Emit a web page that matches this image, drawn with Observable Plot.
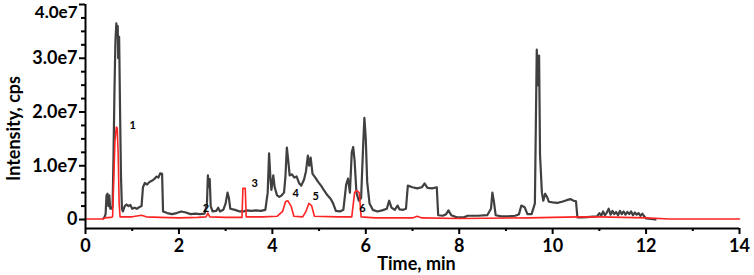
<!DOCTYPE html>
<html><head><meta charset="utf-8">
<script src="https://cdn.jsdelivr.net/npm/d3@7"></script>
<script src="https://cdn.jsdelivr.net/npm/@observablehq/plot@0.6"></script>
<style>body{margin:0;background:#fff} #chart svg{display:block}</style>
</head><body><div id="chart"></div>
<script>
// Intensities in millions of cps (1e6)
const ticTime = [0.38,0.40,0.43,0.45,0.47,0.49,0.51,0.53,0.56,0.58,0.60,0.62,0.64,0.66,0.68,0.69,0.70,0.72,0.74,0.76,0.78,0.80,0.84,0.88,0.92,0.96,1.00,1.05,1.10,1.15,1.20,1.23,1.27,1.32,1.37,1.42,1.47,1.52,1.56,1.60,1.64,1.66,1.75,1.85,1.95,2.05,2.15,2.25,2.35,2.45,2.55,2.60,2.62,2.64,2.66,2.68,2.72,2.80,2.84,2.88,2.95,3.00,3.04,3.07,3.10,3.20,3.30,3.38,3.45,3.55,3.65,3.75,3.85,3.90,3.93,3.96,3.98,4.02,4.05,4.10,4.15,4.20,4.25,4.28,4.31,4.34,4.37,4.42,4.47,4.52,4.57,4.62,4.68,4.72,4.76,4.79,4.82,4.86,4.92,4.98,5.05,5.10,5.18,5.25,5.30,5.36,5.45,5.52,5.58,5.62,5.66,5.70,5.73,5.76,5.80,5.85,5.90,5.94,5.97,6.00,6.03,6.08,6.15,6.25,6.35,6.45,6.50,6.55,6.62,6.68,6.72,6.80,6.86,6.90,7.00,7.10,7.20,7.26,7.32,7.42,7.52,7.55,7.65,7.72,7.77,7.83,7.95,8.10,8.18,8.40,8.60,8.68,8.71,8.74,8.78,8.90,9.05,9.20,9.28,9.33,9.40,9.46,9.55,9.62,9.66,9.69,9.71,9.73,9.77,9.80,9.84,9.88,9.92,10.00,10.10,10.20,10.30,10.38,10.45,10.50,10.53,10.65,10.80,10.95,11.00,11.04,11.08,11.12,11.16,11.20,11.24,11.28,11.32,11.36,11.40,11.44,11.48,11.52,11.56,11.60,11.64,11.68,11.72,11.76,11.80,11.84,11.88,11.92,11.96,12.00,12.10,12.20];
const ticValue = [0.2,0.3,1.0,4.5,4.8,2.5,4.5,2.0,2.0,2.5,12,24,33,36.5,35,36,30,34,20,8,2,1.5,2.5,2.8,2.5,2.7,2.0,2.2,2.0,2.3,2.5,6.0,6.8,6.5,7.0,7.2,7.5,8.0,7.8,8.6,8.5,1.5,1.2,1.0,1.2,1.5,1.3,1.0,1.1,1.0,1.1,3,8.2,6,7.5,2.5,1.5,1.6,2.2,1.5,1.8,3.0,5.0,4.0,2.0,1.8,1.5,1.5,1.7,1.6,1.7,1.6,1.8,5.0,12.3,7.5,5.5,8.2,6.0,4.5,4.2,4.5,5.0,8.0,13.4,11.0,8.2,8.4,7.8,8.0,6.8,6.3,7.5,9.0,11.9,10.0,11.5,8.5,7.8,7.0,6.2,5.5,4.5,3.8,3.0,1.6,1.5,1.8,6.5,7.6,5.0,12.5,13.5,11.0,5.0,3.5,4.0,13,18.9,15,7,3.0,1.8,1.5,1.7,2.0,3.5,2.2,1.8,2.6,1.9,1.8,2.0,6.3,6.0,5.8,6.0,6.7,5.9,5.8,6.0,0.8,0.7,1.0,1.7,0.8,0.4,0.4,0.7,0.7,0.8,2.0,5.0,3.5,0.8,0.6,0.6,0.7,1.0,2.6,2.3,1.0,1.0,3.0,31.6,25,30.5,12,5.0,3.5,4.8,4.2,3.3,3.2,3.1,3.3,3.6,3.8,3.5,3.4,0.4,0.4,0.5,0.6,1.2,0.7,1.5,0.8,1.3,2.0,0.9,1.6,1.0,1.4,0.8,1.6,1.0,1.5,0.9,1.4,1.0,1.5,0.8,1.3,0.9,1.2,0.7,1.1,0.6,0.2,0.1,0.0];

const xicTime = [0.00,0.38,0.40,0.55,0.58,0.60,0.63,0.66,0.68,0.70,0.72,0.74,1.00,1.20,1.30,1.60,2.00,2.40,2.58,2.62,2.66,3.00,3.35,3.37,3.42,3.44,3.80,4.10,4.22,4.28,4.33,4.40,4.46,4.65,4.72,4.78,4.84,4.90,5.40,5.70,5.76,5.80,5.86,5.90,6.20,7.00,7.10,7.20,8.00,9.50,10.00,10.60,11.00,11.50,12.00,12.50,14.00];
const xicValue = [0.1,0.1,0.3,0.4,0.5,6,14.5,17.2,17.0,12,3,0.5,0.5,0.8,0.5,0.4,0.3,0.4,0.5,1.2,0.5,0.4,0.4,5.8,5.8,0.5,0.5,0.6,1.5,3.3,3.5,2.5,0.6,0.5,1.5,3.0,2.6,0.6,0.5,0.5,5.0,5.4,5.0,0.5,0.3,0.3,0.6,0.3,0.2,0.3,0.4,0.5,0.5,0.4,0.3,0.1,0.1];

const peakLabels = ["1","2","3","4","5","6"];
const peakLabelTime = [1.01,2.58,3.62,4.50,4.93,5.93];
const peakLabelValue = [17.5,2.05,6.7,4.8,4.3,2.05];

const xMajorTicks = [0,2,4,6,8,10,12,14];
const xMinorTicks = [1,3,5,7,9,11,13];
const yMajorTicks = [0,10,20,30,40];
const yTopLabelTick = [40];
const yMinorTicks = [2.5,5,7.5,12.5,15,17.5,22.5,25,27.5,32.5,35,37.5];
const yTickLabels = {0: "0", 10: "1.0e7", 20: "2.0e7", 30: "3.0e7", 40: "4.0e7"};
const xTitle = "Time, min";
const yTitle = "Intensity, cps";

const yBottom = -1.67;
const tic = ticTime.map((t, i) => ({t, v: ticValue[i]}));
const xic = xicTime.map((t, i) => ({t, v: xicValue[i]}));
const labels = peakLabels.map((s, i) => ({s, t: peakLabelTime[i], v: peakLabelValue[i]}));
const fam = "Lato, 'Open Sans', sans-serif";

const chart = Plot.plot({
  width: 754, height: 275,
  marginLeft: 85, marginRight: 15, marginTop: 4, marginBottom: 47,
  x: {domain: [0, 14]},
  y: {domain: [yBottom, 40]},
  style: {fontFamily: fam, fontWeight: "bold", fontSize: "18px", color: "#000", background: "#fff", overflow: "visible"},
  marks: [
    Plot.line(tic, {x: "t", y: "v", stroke: "#404040", strokeWidth: 2.2}),
    Plot.line(xic, {x: "t", y: "v", stroke: "#ff2424", strokeWidth: 1.6}),
    Plot.text(labels, {x: "t", y: "v", text: "s", fontSize: 11, fontWeight: "bold", fill: "#000"}),
    Plot.ruleX([0], {stroke: "#000", strokeWidth: 2}),
    Plot.ruleY([yBottom], {stroke: "#000", strokeWidth: 2}),
    Plot.axisX({ticks: xMajorTicks, tickSize: 6, tickPadding: 5, strokeWidth: 2, label: null, tickFormat: d => String(d)}),
    Plot.axisX({ticks: xMinorTicks, tickSize: 3, strokeWidth: 2, label: null, tickFormat: () => ""}),
    Plot.axisY({ticks: yMajorTicks, tickSize: 6, tickPadding: 2, strokeWidth: 2, label: null, tickFormat: d => d === 40 ? "" : yTickLabels[d]}),
    Plot.axisY({ticks: yTopLabelTick, tickSize: 0, tickPadding: 8, dy: 8, fontSize: 17, label: null, tickFormat: d => yTickLabels[d]}),
    Plot.axisY({ticks: yMinorTicks, tickSize: 4, strokeWidth: 2, label: null, tickFormat: () => ""}),
    Plot.text([xTitle], {text: d => d, frameAnchor: "bottom", lineAnchor: "middle", textAnchor: "middle", dx: 4, dy: 36, fontSize: 18, fontWeight: "bold"}),
    Plot.text([yTitle], {text: d => d, frameAnchor: "left", lineAnchor: "middle", textAnchor: "middle", rotate: -90, dx: -71, dy: 12, fontSize: 18, fontWeight: "bold"})
  ]
});
document.getElementById("chart").appendChild(chart);
</script>
</body></html>
